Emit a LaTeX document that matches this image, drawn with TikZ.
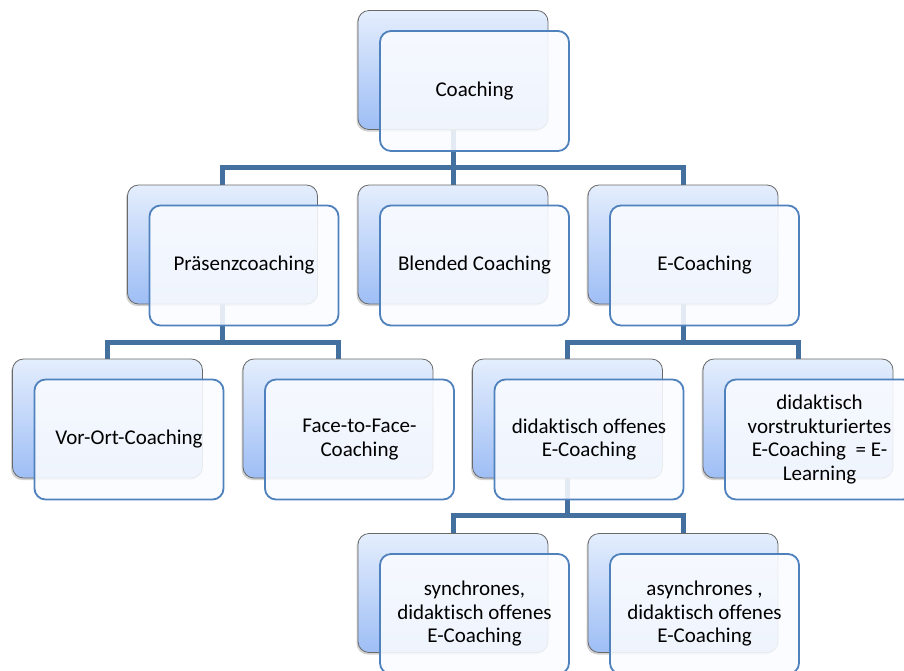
\documentclass[tikz,border=0pt]{standalone}
\usepackage{fontspec}
\setmainfont{Carlito}[Ligatures={NoCommon}]
\usetikzlibrary{shadows,backgrounds}
\definecolor{connc}{RGB}{68,112,160}
\definecolor{fbord}{RGB}{79,129,189}
\definecolor{btop}{RGB}{228,238,253}
\definecolor{bbot}{RGB}{158,190,245}
\definecolor{bbord}{RGB}{105,105,105}
\definecolor{ffill}{RGB}{250,252,255}
\newcommand\pairbox[4]{%
  \node[backbox] (#1b) at (#2,#3) {};
  \node[frontbox] (#1) at ([shift={(21.5,21)}]#1b.center) {#4};}
\begin{document}
\begin{tikzpicture}[x=1pt,y=-1pt,
  backbox/.style={draw=bbord, line width=0.8pt, rounded corners=11pt,
    minimum width=190pt, minimum height=119pt, inner sep=0pt,
    top color=btop, bottom color=bbot,
    drop shadow={shadow xshift=-1.5pt, shadow yshift=-2pt, opacity=0.35}},
  frontbox/.style={draw=fbord, line width=1.8pt, rounded corners=11pt,
    minimum width=189pt, minimum height=120pt, inner sep=2pt,
    fill=ffill, fill opacity=0.88, text opacity=1, align=center,
    font=\fontsize{21}{23.5}\selectfont},
  connline/.style={draw=connc, line width=5pt}]
\useasboundingbox (0,0) rectangle (904,670);
\coordinate (bus1) at (0,167);
\coordinate (bus2) at (0,342);
\coordinate (bus3) at (0,515);
\pairbox{coach}{453}{70}{Coaching}
\pairbox{praes}{222.5}{244.5}{Präsenzcoaching}
\pairbox{blend}{453}{244.5}{Blended Coaching}
\pairbox{ecoach}{683}{244.5}{E-Coaching}
\pairbox{vorort}{107.5}{418.5}{Vor-Ort-Coaching}
\pairbox{face}{338}{418.5}{Face-to-Face-\\Coaching}
\pairbox{offen}{567.5}{418.5}{didaktisch offenes\\E-Coaching}
\pairbox{vorstr}{798}{418.5}{didaktisch\\vorstrukturiertes\\E-Coaching \ = E-\\Learning}
\pairbox{sync}{453}{593}{synchrones,\\didaktisch offenes\\E-Coaching}
\pairbox{async}{683}{593}{asynchrones ,\\didaktisch offenes\\E-Coaching}
\begin{scope}[on background layer]
\fill[white] (0,0) rectangle (904,670);
\draw[connline] (coachb.center) -- (coachb.center |- bus1) -| (praesb.center);
\draw[connline] (coachb.center) -- (coachb.center |- bus1) -| (ecoachb.center);
\draw[connline] (coachb.center) -- (blendb.center);
\draw[connline] (praesb.center) -- (praesb.center |- bus2) -| (vorortb.center);
\draw[connline] (praesb.center) -- (praesb.center |- bus2) -| (faceb.center);
\draw[connline] (ecoachb.center) -- (ecoachb.center |- bus2) -| (offenb.center);
\draw[connline] (ecoachb.center) -- (ecoachb.center |- bus2) -| (vorstrb.center);
\draw[connline] (offenb.center) -- (offenb.center |- bus3) -| (syncb.center);
\draw[connline] (offenb.center) -- (offenb.center |- bus3) -| (asyncb.center);
\end{scope}
\end{tikzpicture}
\end{document}
